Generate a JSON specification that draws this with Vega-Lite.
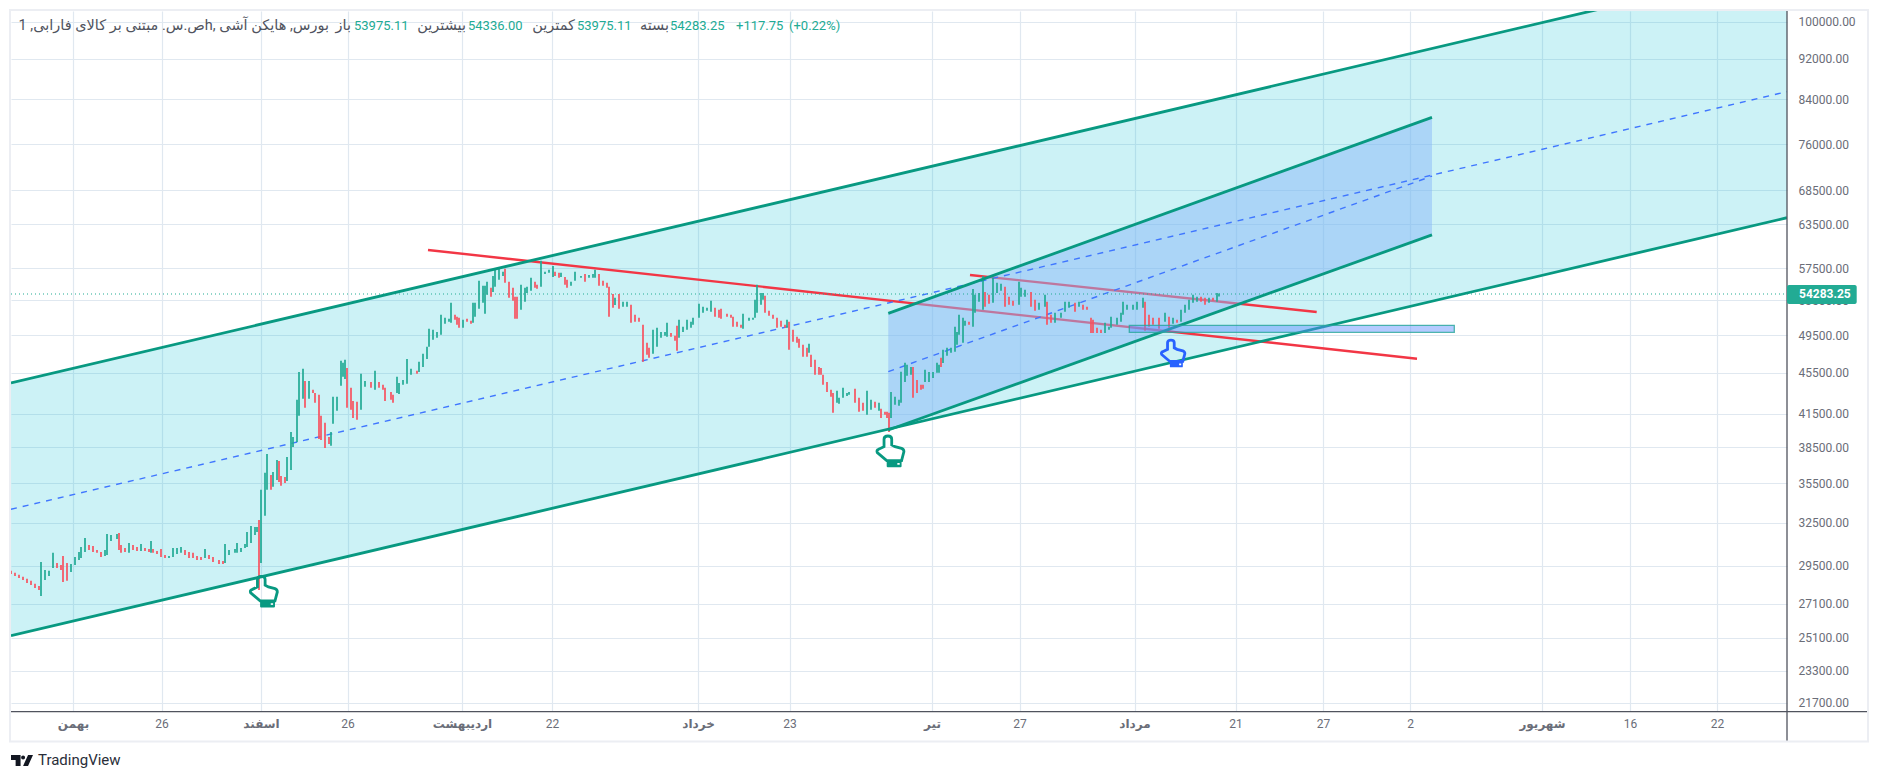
{
"$schema":"https://vega.github.io/schema/vega-lite/v6.json",
"width":1776,"height":700.6,
"autosize":"none",
"padding":{"left":11,"top":11,"right":92,"bottom":69.4},
"background":"#ffffff",
"config":{"view":{"stroke":null},"font":"Roboto"},
"datasets":{
"candles":[
{"t":0,"p":29170,"p2":28970,"dir":"down"},{"t":2,"p":29040,"p2":28840,"dir":"down"},{"t":4,"p":28910,"p2":28710,"dir":"down"},{"t":6,"p":28780,"p2":28580,"dir":"down"},{"t":8,"p":28650,"p2":28390,"dir":"down"},{"t":10,"p":28520,"p2":28260,"dir":"down"},{"t":12,"p":28330,"p2":28070,"dir":"down"},{"t":14,"p":28200,"p2":27940,"dir":"down"},{"t":15,"p":29760,"p2":27570,"dir":"up"},{"t":17,"p":29230,"p2":28580,"dir":"up"},{"t":19,"p":29170,"p2":28840,"dir":"up"},{"t":21,"p":30370,"p2":29360,"dir":"up"},{"t":23,"p":29690,"p2":29360,"dir":"down"},{"t":25,"p":29560,"p2":29230,"dir":"down"},{"t":26,"p":30160,"p2":28450,"dir":"down"},{"t":28,"p":29690,"p2":28520,"dir":"down"},{"t":30,"p":29620,"p2":29100,"dir":"up"},{"t":32,"p":30090,"p2":29560,"dir":"up"},{"t":34,"p":30430,"p2":29890,"dir":"up"},{"t":35,"p":30770,"p2":30030,"dir":"up"},{"t":37,"p":31400,"p2":30430,"dir":"up"},{"t":39,"p":30910,"p2":30570,"dir":"down"},{"t":41,"p":30840,"p2":30430,"dir":"down"},{"t":43,"p":30570,"p2":30370,"dir":"down"},{"t":45,"p":30430,"p2":30090,"dir":"down"},{"t":47,"p":30570,"p2":30160,"dir":"up"},{"t":48,"p":31680,"p2":30230,"dir":"up"},{"t":50,"p":31610,"p2":31190,"dir":"up"},{"t":53,"p":31680,"p2":31330,"dir":"up"},{"t":54,"p":31750,"p2":30570,"dir":"down"},{"t":55,"p":30910,"p2":30370,"dir":"down"},{"t":57,"p":30700,"p2":30430,"dir":"down"},{"t":59,"p":31050,"p2":30370,"dir":"up"},{"t":61,"p":30910,"p2":30570,"dir":"down"},{"t":63,"p":30770,"p2":30500,"dir":"down"},{"t":65,"p":30980,"p2":30500,"dir":"up"},{"t":67,"p":30700,"p2":30500,"dir":"down"},{"t":69,"p":30640,"p2":30430,"dir":"down"},{"t":70,"p":31190,"p2":30370,"dir":"up"},{"t":71,"p":30640,"p2":30370,"dir":"down"},{"t":73,"p":30500,"p2":30300,"dir":"down"},{"t":75,"p":30640,"p2":30090,"dir":"down"},{"t":77,"p":30230,"p2":30030,"dir":"down"},{"t":79,"p":30160,"p2":30030,"dir":"up"},{"t":81,"p":30700,"p2":30090,"dir":"up"},{"t":83,"p":30700,"p2":30300,"dir":"up"},{"t":85,"p":30770,"p2":30370,"dir":"up"},{"t":87,"p":30570,"p2":30230,"dir":"down"},{"t":89,"p":30430,"p2":30030,"dir":"down"},{"t":91,"p":30370,"p2":30030,"dir":"down"},{"t":93,"p":30160,"p2":29890,"dir":"down"},{"t":95,"p":30090,"p2":29890,"dir":"down"},{"t":97,"p":30640,"p2":30030,"dir":"up"},{"t":99,"p":30230,"p2":29960,"dir":"down"},{"t":101,"p":30090,"p2":29760,"dir":"down"},{"t":104,"p":29890,"p2":29620,"dir":"down"},{"t":106,"p":29820,"p2":29620,"dir":"down"},{"t":107,"p":30980,"p2":29690,"dir":"up"},{"t":109,"p":30570,"p2":30230,"dir":"up"},{"t":112,"p":30640,"p2":30370,"dir":"up"},{"t":113,"p":31050,"p2":30370,"dir":"up"},{"t":115,"p":30700,"p2":30430,"dir":"up"},{"t":117,"p":30980,"p2":30700,"dir":"up"},{"t":118,"p":31830,"p2":30770,"dir":"up"},{"t":120,"p":32250,"p2":31050,"dir":"up"},{"t":122,"p":32180,"p2":31610,"dir":"up"},{"t":123,"p":32180,"p2":31830,"dir":"up"},{"t":124,"p":32700,"p2":27940,"dir":"down"},{"t":125,"p":34980,"p2":29690,"dir":"up"},{"t":127,"p":36340,"p2":33000,"dir":"up"},{"t":128,"p":37920,"p2":34980,"dir":"up"},{"t":130,"p":36170,"p2":34980,"dir":"down"},{"t":131,"p":36410,"p2":35220,"dir":"up"},{"t":133,"p":37410,"p2":35770,"dir":"up"},{"t":134,"p":37330,"p2":35610,"dir":"down"},{"t":135,"p":36090,"p2":35300,"dir":"down"},{"t":137,"p":36000,"p2":35530,"dir":"down"},{"t":138,"p":37660,"p2":35690,"dir":"up"},{"t":140,"p":39840,"p2":36580,"dir":"up"},{"t":141,"p":39390,"p2":38520,"dir":"up"},{"t":143,"p":42810,"p2":38950,"dir":"up"},{"t":144,"p":45580,"p2":41300,"dir":"up"},{"t":146,"p":45890,"p2":42910,"dir":"up"},{"t":147,"p":44670,"p2":42050,"dir":"down"},{"t":149,"p":44670,"p2":42910,"dir":"up"},{"t":151,"p":43780,"p2":43480,"dir":"down"},{"t":152,"p":43480,"p2":42520,"dir":"down"},{"t":154,"p":43290,"p2":39220,"dir":"down"},{"t":155,"p":41300,"p2":39130,"dir":"down"},{"t":157,"p":40660,"p2":38430,"dir":"down"},{"t":159,"p":39390,"p2":38780,"dir":"down"},{"t":160,"p":39840,"p2":38610,"dir":"up"},{"t":161,"p":43100,"p2":40570,"dir":"up"},{"t":163,"p":43100,"p2":41770,"dir":"up"},{"t":165,"p":46730,"p2":44180,"dir":"up"},{"t":166,"p":46520,"p2":45080,"dir":"up"},{"t":167,"p":46830,"p2":44870,"dir":"up"},{"t":168,"p":45990,"p2":42050,"dir":"down"},{"t":170,"p":43980,"p2":41860,"dir":"down"},{"t":171,"p":42710,"p2":41110,"dir":"down"},{"t":173,"p":42620,"p2":40930,"dir":"down"},{"t":175,"p":45380,"p2":41860,"dir":"up"},{"t":177,"p":44670,"p2":44080,"dir":"up"},{"t":180,"p":44570,"p2":43980,"dir":"down"},{"t":182,"p":45690,"p2":43780,"dir":"up"},{"t":184,"p":44570,"p2":43980,"dir":"down"},{"t":186,"p":44280,"p2":43780,"dir":"down"},{"t":187,"p":43980,"p2":42710,"dir":"down"},{"t":190,"p":43580,"p2":42810,"dir":"down"},{"t":191,"p":43290,"p2":42520,"dir":"down"},{"t":193,"p":45080,"p2":43480,"dir":"up"},{"t":194,"p":44470,"p2":43380,"dir":"up"},{"t":196,"p":44770,"p2":44280,"dir":"up"},{"t":198,"p":46930,"p2":44380,"dir":"up"},{"t":200,"p":45890,"p2":45280,"dir":"up"},{"t":203,"p":45690,"p2":45380,"dir":"down"},{"t":204,"p":46620,"p2":45580,"dir":"up"},{"t":206,"p":47470,"p2":46090,"dir":"up"},{"t":208,"p":48220,"p2":46930,"dir":"up"},{"t":209,"p":50200,"p2":48220,"dir":"up"},{"t":211,"p":50090,"p2":48980,"dir":"up"},{"t":213,"p":49860,"p2":49200,"dir":"up"},{"t":215,"p":51810,"p2":49540,"dir":"up"},{"t":217,"p":51460,"p2":50770,"dir":"up"},{"t":219,"p":51350,"p2":51000,"dir":"up"},{"t":220,"p":53220,"p2":50880,"dir":"up"},{"t":222,"p":51810,"p2":51230,"dir":"down"},{"t":223,"p":51580,"p2":50660,"dir":"down"},{"t":224,"p":51460,"p2":50320,"dir":"down"},{"t":226,"p":51230,"p2":50320,"dir":"up"},{"t":228,"p":51350,"p2":51000,"dir":"down"},{"t":230,"p":51110,"p2":50770,"dir":"down"},{"t":231,"p":53220,"p2":50880,"dir":"up"},{"t":232,"p":53220,"p2":51580,"dir":"up"},{"t":234,"p":55910,"p2":52510,"dir":"up"},{"t":236,"p":55290,"p2":53220,"dir":"up"},{"t":237,"p":55290,"p2":51920,"dir":"up"},{"t":238,"p":55790,"p2":54180,"dir":"up"},{"t":240,"p":55040,"p2":53950,"dir":"down"},{"t":241,"p":56530,"p2":54540,"dir":"up"},{"t":242,"p":57440,"p2":55160,"dir":"up"},{"t":244,"p":57570,"p2":56040,"dir":"up"},{"t":246,"p":57050,"p2":56530,"dir":"up"},{"t":247,"p":57440,"p2":55670,"dir":"down"},{"t":249,"p":55790,"p2":53820,"dir":"down"},{"t":251,"p":55040,"p2":53460,"dir":"down"},{"t":252,"p":53950,"p2":51350,"dir":"down"},{"t":253,"p":53950,"p2":51350,"dir":"down"},{"t":255,"p":55420,"p2":52390,"dir":"up"},{"t":257,"p":55040,"p2":53340,"dir":"up"},{"t":258,"p":55160,"p2":54420,"dir":"up"},{"t":260,"p":56290,"p2":54670,"dir":"up"},{"t":262,"p":55790,"p2":55040,"dir":"down"},{"t":263,"p":55420,"p2":54920,"dir":"down"},{"t":265,"p":58480,"p2":55160,"dir":"up"},{"t":267,"p":57050,"p2":56790,"dir":"up"},{"t":269,"p":57310,"p2":56920,"dir":"up"},{"t":271,"p":57820,"p2":56410,"dir":"up"},{"t":272,"p":57050,"p2":56530,"dir":"down"},{"t":274,"p":56920,"p2":56290,"dir":"down"},{"t":275,"p":56920,"p2":56410,"dir":"up"},{"t":277,"p":56410,"p2":55420,"dir":"down"},{"t":278,"p":56040,"p2":55040,"dir":"down"},{"t":280,"p":55790,"p2":55290,"dir":"up"},{"t":282,"p":57050,"p2":55910,"dir":"up"},{"t":285,"p":56530,"p2":56290,"dir":"up"},{"t":287,"p":56790,"p2":55790,"dir":"down"},{"t":289,"p":56660,"p2":56290,"dir":"up"},{"t":291,"p":56790,"p2":56290,"dir":"up"},{"t":292,"p":57310,"p2":56290,"dir":"up"},{"t":294,"p":56790,"p2":55290,"dir":"down"},{"t":296,"p":55910,"p2":55290,"dir":"down"},{"t":298,"p":55670,"p2":55040,"dir":"down"},{"t":299,"p":55160,"p2":51580,"dir":"down"},{"t":301,"p":54290,"p2":52630,"dir":"down"},{"t":302,"p":53820,"p2":52950,"dir":"up"},{"t":304,"p":54290,"p2":52510,"dir":"down"},{"t":306,"p":53340,"p2":52750,"dir":"up"},{"t":308,"p":53340,"p2":52750,"dir":"up"},{"t":310,"p":52980,"p2":50880,"dir":"down"},{"t":312,"p":51810,"p2":51000,"dir":"down"},{"t":314,"p":51460,"p2":51000,"dir":"down"},{"t":316,"p":50660,"p2":46620,"dir":"down"},{"t":318,"p":48660,"p2":47360,"dir":"down"},{"t":319,"p":48110,"p2":47040,"dir":"down"},{"t":321,"p":50090,"p2":47470,"dir":"up"},{"t":323,"p":50320,"p2":48220,"dir":"up"},{"t":325,"p":49860,"p2":49200,"dir":"up"},{"t":327,"p":49860,"p2":49430,"dir":"up"},{"t":328,"p":50880,"p2":49310,"dir":"up"},{"t":330,"p":49750,"p2":49310,"dir":"down"},{"t":332,"p":49430,"p2":48870,"dir":"down"},{"t":333,"p":50540,"p2":47790,"dir":"down"},{"t":334,"p":51230,"p2":49200,"dir":"up"},{"t":336,"p":50430,"p2":49860,"dir":"up"},{"t":338,"p":51230,"p2":50090,"dir":"up"},{"t":340,"p":51000,"p2":50320,"dir":"up"},{"t":341,"p":51460,"p2":50660,"dir":"up"},{"t":344,"p":53100,"p2":51460,"dir":"up"},{"t":346,"p":52750,"p2":52040,"dir":"up"},{"t":348,"p":52630,"p2":52270,"dir":"up"},{"t":350,"p":53460,"p2":52160,"dir":"up"},{"t":352,"p":52630,"p2":51580,"dir":"down"},{"t":354,"p":52390,"p2":51460,"dir":"down"},{"t":355,"p":52510,"p2":51350,"dir":"down"},{"t":358,"p":51920,"p2":51580,"dir":"down"},{"t":360,"p":51810,"p2":51460,"dir":"down"},{"t":361,"p":51580,"p2":50430,"dir":"down"},{"t":363,"p":51000,"p2":50430,"dir":"down"},{"t":365,"p":50660,"p2":50320,"dir":"down"},{"t":366,"p":51920,"p2":50200,"dir":"up"},{"t":369,"p":51460,"p2":51110,"dir":"up"},{"t":371,"p":51460,"p2":51230,"dir":"up"},{"t":372,"p":53580,"p2":51460,"dir":"up"},{"t":373,"p":55420,"p2":52040,"dir":"up"},{"t":375,"p":54420,"p2":52980,"dir":"up"},{"t":376,"p":54420,"p2":53580,"dir":"up"},{"t":377,"p":54060,"p2":52040,"dir":"down"},{"t":379,"p":52270,"p2":51700,"dir":"down"},{"t":381,"p":51810,"p2":51350,"dir":"down"},{"t":383,"p":51460,"p2":50320,"dir":"down"},{"t":385,"p":51110,"p2":50430,"dir":"down"},{"t":387,"p":50660,"p2":50320,"dir":"down"},{"t":388,"p":51230,"p2":50320,"dir":"up"},{"t":389,"p":51000,"p2":47890,"dir":"down"},{"t":391,"p":50090,"p2":48760,"dir":"down"},{"t":393,"p":49310,"p2":48660,"dir":"down"},{"t":394,"p":49090,"p2":48110,"dir":"down"},{"t":396,"p":48440,"p2":47150,"dir":"down"},{"t":398,"p":48110,"p2":47150,"dir":"down"},{"t":399,"p":48550,"p2":47570,"dir":"up"},{"t":400,"p":47360,"p2":46090,"dir":"down"},{"t":402,"p":46830,"p2":45280,"dir":"down"},{"t":404,"p":46090,"p2":45280,"dir":"down"},{"t":405,"p":45990,"p2":45280,"dir":"down"},{"t":406,"p":45280,"p2":44280,"dir":"down"},{"t":408,"p":44570,"p2":43580,"dir":"down"},{"t":410,"p":43780,"p2":43100,"dir":"down"},{"t":411,"p":43480,"p2":41580,"dir":"down"},{"t":413,"p":43680,"p2":42520,"dir":"up"},{"t":414,"p":43000,"p2":42430,"dir":"up"},{"t":416,"p":43980,"p2":43000,"dir":"up"},{"t":418,"p":43480,"p2":43190,"dir":"up"},{"t":419,"p":43580,"p2":43290,"dir":"up"},{"t":422,"p":43880,"p2":42520,"dir":"down"},{"t":424,"p":43000,"p2":41670,"dir":"down"},{"t":426,"p":42520,"p2":41770,"dir":"down"},{"t":428,"p":43680,"p2":41390,"dir":"up"},{"t":430,"p":42810,"p2":41860,"dir":"up"},{"t":432,"p":42620,"p2":42050,"dir":"down"},{"t":434,"p":42520,"p2":41770,"dir":"up"},{"t":435,"p":41960,"p2":41110,"dir":"down"},{"t":437,"p":41670,"p2":41390,"dir":"down"},{"t":438,"p":41670,"p2":41110,"dir":"down"},{"t":439,"p":41580,"p2":39840,"dir":"down"},{"t":440,"p":43580,"p2":41110,"dir":"up"},{"t":442,"p":43100,"p2":42330,"dir":"up"},{"t":444,"p":42810,"p2":42240,"dir":"up"},{"t":445,"p":45590,"p2":42520,"dir":"up"},{"t":447,"p":46520,"p2":44570,"dir":"up"},{"t":448,"p":46310,"p2":45180,"dir":"up"},{"t":450,"p":46090,"p2":45280,"dir":"up"},{"t":451,"p":46090,"p2":43000,"dir":"down"},{"t":453,"p":44770,"p2":43480,"dir":"down"},{"t":455,"p":44280,"p2":43780,"dir":"down"},{"t":456,"p":44280,"p2":43880,"dir":"down"},{"t":457,"p":45790,"p2":44570,"dir":"up"},{"t":459,"p":45580,"p2":44570,"dir":"up"},{"t":461,"p":45580,"p2":44970,"dir":"up"},{"t":463,"p":46520,"p2":45480,"dir":"up"},{"t":464,"p":46310,"p2":45480,"dir":"up"},{"t":465,"p":47040,"p2":46090,"dir":"down"},{"t":466,"p":47890,"p2":46510,"dir":"up"},{"t":468,"p":48110,"p2":47260,"dir":"up"},{"t":470,"p":48110,"p2":47570,"dir":"up"},{"t":472,"p":50430,"p2":47680,"dir":"up"},{"t":473,"p":49860,"p2":48440,"dir":"up"},{"t":474,"p":51810,"p2":49540,"dir":"up"},{"t":476,"p":51460,"p2":48660,"dir":"up"},{"t":477,"p":51110,"p2":50540,"dir":"up"},{"t":479,"p":51000,"p2":50660,"dir":"down"},{"t":481,"p":54910,"p2":50430,"dir":"up"},{"t":482,"p":54180,"p2":52040,"dir":"up"},{"t":484,"p":54420,"p2":53340,"dir":"up"},{"t":486,"p":56530,"p2":52390,"dir":"up"},{"t":487,"p":54540,"p2":52750,"dir":"down"},{"t":489,"p":54180,"p2":53100,"dir":"down"},{"t":491,"p":56290,"p2":53220,"dir":"up"},{"t":493,"p":55670,"p2":54420,"dir":"up"},{"t":495,"p":55540,"p2":54670,"dir":"up"},{"t":497,"p":55160,"p2":52750,"dir":"down"},{"t":499,"p":53950,"p2":52980,"dir":"down"},{"t":501,"p":53460,"p2":52860,"dir":"down"},{"t":504,"p":55790,"p2":52980,"dir":"up"},{"t":505,"p":55040,"p2":53950,"dir":"up"},{"t":507,"p":54790,"p2":53950,"dir":"up"},{"t":510,"p":54540,"p2":52750,"dir":"down"},{"t":512,"p":53580,"p2":52270,"dir":"down"},{"t":514,"p":53220,"p2":52390,"dir":"up"},{"t":517,"p":54180,"p2":52750,"dir":"up"},{"t":518,"p":53340,"p2":50660,"dir":"down"},{"t":520,"p":51810,"p2":50880,"dir":"down"},{"t":522,"p":52040,"p2":50880,"dir":"up"},{"t":525,"p":52040,"p2":51460,"dir":"up"},{"t":527,"p":53340,"p2":52160,"dir":"up"},{"t":529,"p":53340,"p2":52630,"dir":"up"},{"t":532,"p":53220,"p2":52160,"dir":"down"},{"t":534,"p":53340,"p2":52750,"dir":"up"},{"t":536,"p":52980,"p2":52390,"dir":"down"},{"t":538,"p":52750,"p2":52390,"dir":"down"},{"t":540,"p":51460,"p2":49750,"dir":"down"},{"t":541,"p":51230,"p2":49750,"dir":"down"},{"t":543,"p":50320,"p2":49750,"dir":"down"},{"t":545,"p":50090,"p2":49750,"dir":"down"},{"t":547,"p":50880,"p2":49750,"dir":"up"},{"t":549,"p":50430,"p2":50090,"dir":"up"},{"t":550,"p":51580,"p2":50320,"dir":"up"},{"t":553,"p":51460,"p2":50660,"dir":"up"},{"t":555,"p":52040,"p2":51000,"dir":"up"},{"t":556,"p":53340,"p2":51810,"dir":"up"},{"t":558,"p":52980,"p2":52390,"dir":"up"},{"t":561,"p":52980,"p2":52390,"dir":"up"},{"t":563,"p":53340,"p2":52390,"dir":"up"},{"t":566,"p":53820,"p2":52630,"dir":"up"},{"t":567,"p":53340,"p2":49980,"dir":"down"},{"t":569,"p":51810,"p2":50430,"dir":"down"},{"t":571,"p":51460,"p2":50660,"dir":"down"},{"t":574,"p":51460,"p2":50200,"dir":"down"},{"t":577,"p":52040,"p2":51000,"dir":"up"},{"t":579,"p":51580,"p2":50320,"dir":"down"},{"t":581,"p":51460,"p2":50770,"dir":"up"},{"t":583,"p":51230,"p2":50880,"dir":"down"},{"t":585,"p":52390,"p2":51000,"dir":"up"},{"t":587,"p":52980,"p2":52040,"dir":"up"},{"t":589,"p":53580,"p2":52390,"dir":"up"},{"t":591,"p":54180,"p2":53220,"dir":"up"},{"t":593,"p":53950,"p2":53340,"dir":"up"},{"t":595,"p":53950,"p2":53340,"dir":"down"},{"t":597,"p":53820,"p2":52980,"dir":"down"},{"t":599,"p":53820,"p2":53220,"dir":"up"},{"t":601,"p":53820,"p2":53460,"dir":"down"},{"t":603,"p":54420,"p2":53340,"dir":"up"},{"t":604,"p":54336,"p2":53975,"dir":"up"}
],
"grays":[
{"t":159,"p":99040,"label":"\u202bبورس, هایکن آشی ,hص.س. مبتنی بر کالای فارابی, 1\u202c"},
{"t":170,"p":99040,"label":"باز"},
{"t":227.5,"p":99040,"label":"بیشترین"},
{"t":282,"p":99040,"label":"کمترین"},
{"t":329,"p":99040,"label":"بسته"}
],
"teals":[
{"t":171.5,"p":99040,"label":"53975.11"},
{"t":228.5,"p":99040,"label":"54336.00"},
{"t":283,"p":99040,"label":"53975.11"},
{"t":329.5,"p":99040,"label":"54283.25"},
{"t":362.5,"p":99040,"label":"+117.75"},
{"t":389,"p":99040,"label":"(+0.22%)"}
]
},
"encoding":{
"x":{"field":"t","type":"quantitative","title":null,"scale":{"domain":[0,888],"nice":false,"zero":false},
"axis":{"orient":"bottom","values":[31,75.25,125,168.25,225.5,270.5,343.5,389.25,460.5,504.25,561.75,612.25,656,699.5,765.5,809.5,853],
"labelExpr":"{'31':'بهمن','75.25':'26','125':'اسفند','168.25':'26','225.5':'اردیبهشت','270.5':'22','343.5':'خرداد','389.25':'23','460.5':'تیر','504.25':'27','561.75':'مرداد','612.25':'21','656':'27','699.5':'2','765.5':'شهریور','809.5':'16','853':'22'}[datum.value]",
"labelFontWeight":{"condition":{"test":"indexof([31,125,225.5,343.5,460.5,561.75,765.5],datum.value)>=0","value":"bold"},"value":"normal"},
"labelFont":"Roboto, DejaVu Sans","labelFontSize":12,"labelColor":"#6a6d78","labelPadding":7,"labelOverlap":false,"labelFlush":false,"domain":false,"ticks":false,"grid":true,"gridColor":"#e0e8f0","gridWidth":1.2}},
"y":{"field":"p","type":"quantitative","title":null,"scale":{"type":"log","domain":[21270,102430],"nice":false},
"axis":{"orient":"right","values":[100000,92000,84000,76000,68500,63500,57500,53500,49500,45500,41500,38500,35500,32500,29500,27100,25100,23300,21700],
"format":".2f","labelFont":"Roboto","labelFontSize":12,"labelColor":"#6a6d78","labelPadding":11,"labelOverlap":false,"labelFlush":false,"labelBound":false,"domain":false,"ticks":false,"grid":true,"gridColor":"#e0e8f0","gridWidth":1.2}}
},
"layer":[
{"data":{"values":[{"t":0,"p":44460,"p2":25220},{"t":888,"p":113570,"p2":64420}]},
"mark":{"type":"area","color":"#00bcd4","opacity":0.2,"clip":true},
"encoding":{"y2":{"field":"p2"}}},
{"data":{"values":[{"t":208.5,"p":59920,"t2":703,"p2":46950},{"t":479.5,"p":56650,"t2":652.85,"p2":52140}]},
"mark":{"type":"rule","color":"#f23645","strokeWidth":2.4},
"encoding":{"x2":{"field":"t2"},"y2":{"field":"p2"}}},
{"data":{"values":[{"t":438.65,"p":51980,"p2":40010},{"t":710.5,"p":80680,"p2":61980}]},
"mark":{"type":"area","color":"#8ab8f8","opacity":0.5},
"encoding":{"y2":{"field":"p2"}}},
{"data":{"values":[{"t":0,"p":33490,"t2":888,"p2":85470},{"t":438.65,"p":45610,"t2":710.5,"p2":70720}]},
"mark":{"type":"rule","color":"#3f76ff","strokeWidth":1.4,"strokeDash":[6,6]},
"encoding":{"x2":{"field":"t2"},"y2":{"field":"p2"}}},
{"data":{"values":[{"t":0,"p":54283.25,"t2":888}]},
"mark":{"type":"rule","color":"#22ab94","strokeWidth":1.2,"strokeDash":[1,3]},
"encoding":{"x2":{"field":"t2"}}},
{"data":{"name":"candles"},
"mark":{"type":"rule","strokeWidth":1.7},
"encoding":{"y2":{"field":"p2"},"color":{"field":"dir","type":"nominal","legend":null,"scale":{"domain":["up","down"],"range":["#22ab94","#f7525f"]}}}},
{"data":{"values":[{"t":0,"p":44460,"t2":888,"p2":113570},{"t":0,"p":25220,"t2":888,"p2":64420},{"t":438.65,"p":51980,"t2":710.5,"p2":80680},{"t":438.65,"p":40010,"t2":710.5,"p2":61980}]},
"mark":{"type":"rule","color":"#089981","strokeWidth":2.8,"clip":true},
"encoding":{"x2":{"field":"t2"},"y2":{"field":"p2"}}},
{"data":{"values":[{"t":559.15,"p":50600,"t2":721.65,"p2":49810}]},
"mark":{"type":"rect","color":"#5b8cff","fillOpacity":0.45,"stroke":"#26a69a","strokeOpacity":0.8,"strokeWidth":1.3},
"encoding":{"x2":{"field":"t2"},"y2":{"field":"p2"}}},
{"data":{"values":[{"t":126.35,"p":27820},{"t":439.65,"p":38110}]},
"mark":{"type":"point","filled":false,"stroke":"#089981","strokeWidth":2.8,"opacity":1,"size":981,"shape":"M-.4 -.32L-.4 -.8Q-.4 -1 -.15 -1Q.09 -1 .09 -.8L.09 -.43L.3 -.32L.72 -.21Q.87 -.15 .87 0L.72 .57L-.23 .57L-.83 .06Q-.9 -.1 -.75 -.15Z"}},
{"data":{"values":[{"t":126.35,"p":27820},{"t":439.65,"p":38110}]},
"mark":{"type":"point","filled":true,"fill":"#089981","opacity":1,"size":981,"shape":"M-.23 .57H.72V.93Q.72 1 .65 1H-.16Q-.23 1 -.23 .93ZM.45 .72V.84H.6V.72Z"}},
{"data":{"values":[{"t":581,"p":47480}]},
"mark":{"type":"point","filled":false,"stroke":"#2962ff","strokeWidth":2.8,"opacity":1,"size":745,"shape":"M-.4 -.32L-.4 -.8Q-.4 -1 -.15 -1Q.09 -1 .09 -.8L.09 -.43L.3 -.32L.72 -.21Q.87 -.15 .87 0L.72 .57L-.23 .57L-.83 .06Q-.9 -.1 -.75 -.15Z"}},
{"data":{"values":[{"t":581,"p":47480}]},
"mark":{"type":"point","filled":true,"fill":"#2962ff","opacity":1,"size":745,"shape":"M-.23 .57H.72V.93Q.72 1 .65 1H-.16Q-.23 1 -.23 .93ZM.45 .72V.84H.6V.72Z"}},
{"data":{"values":[{"t":0,"p":21270,"t2":928.5},{"t":888,"p":102430,"p2":19885}]},
"mark":{"type":"rule","color":"#50535e","strokeWidth":1.3},
"encoding":{"x2":{"field":"t2"},"y2":{"field":"p2"}}},
{"data":{"values":[{"t":-0.5,"p":102660,"t2":928.5,"p2":19885}]},
"mark":{"type":"rect","fill":"transparent","stroke":"#eceef3","strokeWidth":2},
"encoding":{"x2":{"field":"t2"},"y2":{"field":"p2"}}},
{"data":{"values":[{"t":888,"p":55390,"t2":922.85,"p2":53080}]},
"mark":{"type":"rect","color":"#22ab94","cornerRadius":2},
"encoding":{"x2":{"field":"t2"},"y2":{"field":"p2"}}},
{"data":{"values":[{"t":894,"p":54283.25,"label":"54283.25"}]},
"mark":{"type":"text","align":"left","baseline":"middle","font":"Roboto","fontSize":12,"fontWeight":"bold","color":"#ffffff"},
"encoding":{"text":{"field":"label"}}},
{"data":{"name":"grays"},
"mark":{"type":"text","align":"right","baseline":"middle","font":"Roboto, DejaVu Sans","fontSize":14.5,"color":"#50535e"},
"encoding":{"text":{"field":"label"}}},
{"data":{"name":"teals"},
"mark":{"type":"text","align":"left","baseline":"middle","font":"Roboto","fontSize":13,"color":"#22ab94"},
"encoding":{"text":{"field":"label"}}},
{"data":{"values":[{"t":13.5,"p":19080,"label":"TradingView"}]},
"mark":{"type":"text","align":"left","baseline":"middle","font":"Roboto","fontSize":15,"color":"#2a2e39"},
"encoding":{"text":{"field":"label"}}},
{"data":{"values":[{"t":5.5,"p":19060}]},
"mark":{"type":"point","filled":true,"fill":"#131722","opacity":1,"size":484,"shape":"M-1 -.49H-.13V.49H-.58V-.04H-1ZM-.08 -.28A.18 .18 0 1 0 .28 -.28A.18 .18 0 1 0 -.08 -.28ZM1 -.49L.55 .49H.1L.55 -.49Z"}}
]
}
